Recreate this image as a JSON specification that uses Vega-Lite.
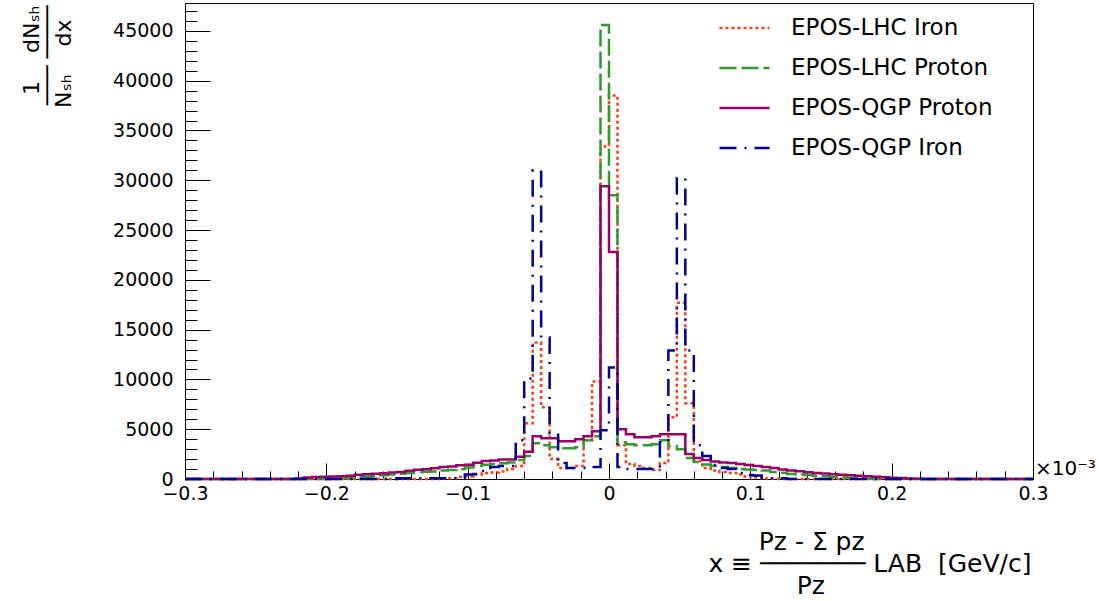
{
  "$schema": "https://vega.github.io/schema/vega-lite/v6.json",
  "width": 848,
  "height": 476,
  "autosize": {"type": "none"},
  "padding": {"left": 185, "top": 3, "right": 66, "bottom": 122},
  "background": "white",
  "config": {
    "view": {"stroke": "black", "strokeWidth": 1},
    "font": "DejaVu Sans"
  },
  "layer": [
    {
      "data": {"values": [
        {"x": -0.3, "EPOS-LHC Iron": 0, "EPOS-LHC Proton": 0, "EPOS-QGP Proton": 0, "EPOS-QGP Iron": 0},
        {"x": -0.294, "EPOS-LHC Iron": 0, "EPOS-LHC Proton": 0, "EPOS-QGP Proton": 0, "EPOS-QGP Iron": 0},
        {"x": -0.288, "EPOS-LHC Iron": 0, "EPOS-LHC Proton": 0, "EPOS-QGP Proton": 0, "EPOS-QGP Iron": 0},
        {"x": -0.282, "EPOS-LHC Iron": 0, "EPOS-LHC Proton": 0, "EPOS-QGP Proton": 0, "EPOS-QGP Iron": 0},
        {"x": -0.276, "EPOS-LHC Iron": 0, "EPOS-LHC Proton": 0, "EPOS-QGP Proton": 0, "EPOS-QGP Iron": 0},
        {"x": -0.27, "EPOS-LHC Iron": 0, "EPOS-LHC Proton": 0, "EPOS-QGP Proton": 0, "EPOS-QGP Iron": 0},
        {"x": -0.264, "EPOS-LHC Iron": 0, "EPOS-LHC Proton": 0, "EPOS-QGP Proton": 0, "EPOS-QGP Iron": 0},
        {"x": -0.258, "EPOS-LHC Iron": 0, "EPOS-LHC Proton": 0, "EPOS-QGP Proton": 0, "EPOS-QGP Iron": 0},
        {"x": -0.252, "EPOS-LHC Iron": 0, "EPOS-LHC Proton": 0, "EPOS-QGP Proton": 0, "EPOS-QGP Iron": 0},
        {"x": -0.246, "EPOS-LHC Iron": 0, "EPOS-LHC Proton": 0, "EPOS-QGP Proton": 0, "EPOS-QGP Iron": 0},
        {"x": -0.24, "EPOS-LHC Iron": 0, "EPOS-LHC Proton": 0, "EPOS-QGP Proton": 0, "EPOS-QGP Iron": 0},
        {"x": -0.234, "EPOS-LHC Iron": 0, "EPOS-LHC Proton": 0, "EPOS-QGP Proton": 0, "EPOS-QGP Iron": 0},
        {"x": -0.228, "EPOS-LHC Iron": 0, "EPOS-LHC Proton": 0, "EPOS-QGP Proton": 0, "EPOS-QGP Iron": 0},
        {"x": -0.222, "EPOS-LHC Iron": 0, "EPOS-LHC Proton": 0, "EPOS-QGP Proton": 50, "EPOS-QGP Iron": 0},
        {"x": -0.216, "EPOS-LHC Iron": 0, "EPOS-LHC Proton": 0, "EPOS-QGP Proton": 150, "EPOS-QGP Iron": 0},
        {"x": -0.21, "EPOS-LHC Iron": 0, "EPOS-LHC Proton": 0, "EPOS-QGP Proton": 200, "EPOS-QGP Iron": 0},
        {"x": -0.204, "EPOS-LHC Iron": 0, "EPOS-LHC Proton": 10, "EPOS-QGP Proton": 220, "EPOS-QGP Iron": 0},
        {"x": -0.198, "EPOS-LHC Iron": 0, "EPOS-LHC Proton": 30, "EPOS-QGP Proton": 250, "EPOS-QGP Iron": 0},
        {"x": -0.192, "EPOS-LHC Iron": 0, "EPOS-LHC Proton": 60, "EPOS-QGP Proton": 280, "EPOS-QGP Iron": 0},
        {"x": -0.186, "EPOS-LHC Iron": 0, "EPOS-LHC Proton": 100, "EPOS-QGP Proton": 330, "EPOS-QGP Iron": 0},
        {"x": -0.18, "EPOS-LHC Iron": 0, "EPOS-LHC Proton": 150, "EPOS-QGP Proton": 420, "EPOS-QGP Iron": 0},
        {"x": -0.174, "EPOS-LHC Iron": 0, "EPOS-LHC Proton": 220, "EPOS-QGP Proton": 480, "EPOS-QGP Iron": 0},
        {"x": -0.168, "EPOS-LHC Iron": 0, "EPOS-LHC Proton": 280, "EPOS-QGP Proton": 530, "EPOS-QGP Iron": 0},
        {"x": -0.162, "EPOS-LHC Iron": 0, "EPOS-LHC Proton": 380, "EPOS-QGP Proton": 580, "EPOS-QGP Iron": 0},
        {"x": -0.156, "EPOS-LHC Iron": 0, "EPOS-LHC Proton": 450, "EPOS-QGP Proton": 650, "EPOS-QGP Iron": 0},
        {"x": -0.15, "EPOS-LHC Iron": 0, "EPOS-LHC Proton": 520, "EPOS-QGP Proton": 700, "EPOS-QGP Iron": 80},
        {"x": -0.144, "EPOS-LHC Iron": 0, "EPOS-LHC Proton": 600, "EPOS-QGP Proton": 830, "EPOS-QGP Iron": 80},
        {"x": -0.138, "EPOS-LHC Iron": 0, "EPOS-LHC Proton": 680, "EPOS-QGP Proton": 930, "EPOS-QGP Iron": 80},
        {"x": -0.132, "EPOS-LHC Iron": 0, "EPOS-LHC Proton": 720, "EPOS-QGP Proton": 990, "EPOS-QGP Iron": 80},
        {"x": -0.126, "EPOS-LHC Iron": 0, "EPOS-LHC Proton": 760, "EPOS-QGP Proton": 1070, "EPOS-QGP Iron": 80},
        {"x": -0.12, "EPOS-LHC Iron": 20, "EPOS-LHC Proton": 850, "EPOS-QGP Proton": 1200, "EPOS-QGP Iron": 80},
        {"x": -0.114, "EPOS-LHC Iron": 80, "EPOS-LHC Proton": 900, "EPOS-QGP Proton": 1260, "EPOS-QGP Iron": 80},
        {"x": -0.108, "EPOS-LHC Iron": 200, "EPOS-LHC Proton": 980, "EPOS-QGP Proton": 1380, "EPOS-QGP Iron": 100},
        {"x": -0.102, "EPOS-LHC Iron": 250, "EPOS-LHC Proton": 1150, "EPOS-QGP Proton": 1430, "EPOS-QGP Iron": 450},
        {"x": -0.096, "EPOS-LHC Iron": 450, "EPOS-LHC Proton": 1300, "EPOS-QGP Proton": 1630, "EPOS-QGP Iron": 500},
        {"x": -0.09, "EPOS-LHC Iron": 600, "EPOS-LHC Proton": 1420, "EPOS-QGP Proton": 1800, "EPOS-QGP Iron": 800},
        {"x": -0.084, "EPOS-LHC Iron": 650, "EPOS-LHC Proton": 1500, "EPOS-QGP Proton": 1850, "EPOS-QGP Iron": 1200},
        {"x": -0.078, "EPOS-LHC Iron": 750, "EPOS-LHC Proton": 1580, "EPOS-QGP Proton": 1950, "EPOS-QGP Iron": 1300},
        {"x": -0.072, "EPOS-LHC Iron": 1000, "EPOS-LHC Proton": 1650, "EPOS-QGP Proton": 1950, "EPOS-QGP Iron": 1300},
        {"x": -0.066, "EPOS-LHC Iron": 1300, "EPOS-LHC Proton": 1900, "EPOS-QGP Proton": 2230, "EPOS-QGP Iron": 3900},
        {"x": -0.06, "EPOS-LHC Iron": 5600, "EPOS-LHC Proton": 2300, "EPOS-QGP Proton": 2730, "EPOS-QGP Iron": 10100},
        {"x": -0.054, "EPOS-LHC Iron": 13700, "EPOS-LHC Proton": 3600, "EPOS-QGP Proton": 4300, "EPOS-QGP Iron": 31000},
        {"x": -0.048, "EPOS-LHC Iron": 7200, "EPOS-LHC Proton": 3400, "EPOS-QGP Proton": 4100, "EPOS-QGP Iron": 14200},
        {"x": -0.042, "EPOS-LHC Iron": 2000, "EPOS-LHC Proton": 3200, "EPOS-QGP Proton": 4100, "EPOS-QGP Iron": 4600},
        {"x": -0.036, "EPOS-LHC Iron": 1100, "EPOS-LHC Proton": 3100, "EPOS-QGP Proton": 3800, "EPOS-QGP Iron": 1600},
        {"x": -0.03, "EPOS-LHC Iron": 1100, "EPOS-LHC Proton": 3100, "EPOS-QGP Proton": 3800, "EPOS-QGP Iron": 1100},
        {"x": -0.024, "EPOS-LHC Iron": 1300, "EPOS-LHC Proton": 3200, "EPOS-QGP Proton": 4000, "EPOS-QGP Iron": 1100},
        {"x": -0.018, "EPOS-LHC Iron": 3900, "EPOS-LHC Proton": 3900, "EPOS-QGP Proton": 4300, "EPOS-QGP Iron": 1100},
        {"x": -0.012, "EPOS-LHC Iron": 9800, "EPOS-LHC Proton": 4300, "EPOS-QGP Proton": 4800, "EPOS-QGP Iron": 1200},
        {"x": -0.006, "EPOS-LHC Iron": 33400, "EPOS-LHC Proton": 45600, "EPOS-QGP Proton": 29400, "EPOS-QGP Iron": 4900},
        {"x": 0, "EPOS-LHC Iron": 38500, "EPOS-LHC Proton": 28500, "EPOS-QGP Proton": 22800, "EPOS-QGP Iron": 11200},
        {"x": 0.006, "EPOS-LHC Iron": 3400, "EPOS-LHC Proton": 3700, "EPOS-QGP Proton": 5000, "EPOS-QGP Iron": 1200},
        {"x": 0.012, "EPOS-LHC Iron": 1500, "EPOS-LHC Proton": 3500, "EPOS-QGP Proton": 4500, "EPOS-QGP Iron": 1000},
        {"x": 0.018, "EPOS-LHC Iron": 1300, "EPOS-LHC Proton": 3400, "EPOS-QGP Proton": 4200, "EPOS-QGP Iron": 1000},
        {"x": 0.024, "EPOS-LHC Iron": 1100, "EPOS-LHC Proton": 3400, "EPOS-QGP Proton": 4200, "EPOS-QGP Iron": 1000},
        {"x": 0.03, "EPOS-LHC Iron": 900, "EPOS-LHC Proton": 3500, "EPOS-QGP Proton": 4300, "EPOS-QGP Iron": 1000},
        {"x": 0.036, "EPOS-LHC Iron": 1600, "EPOS-LHC Proton": 3900, "EPOS-QGP Proton": 4500, "EPOS-QGP Iron": 3700},
        {"x": 0.042, "EPOS-LHC Iron": 6200, "EPOS-LHC Proton": 3300, "EPOS-QGP Proton": 4500, "EPOS-QGP Iron": 12900},
        {"x": 0.048, "EPOS-LHC Iron": 17700, "EPOS-LHC Proton": 3000, "EPOS-QGP Proton": 4500, "EPOS-QGP Iron": 30200},
        {"x": 0.054, "EPOS-LHC Iron": 7600, "EPOS-LHC Proton": 2100, "EPOS-QGP Proton": 2500, "EPOS-QGP Iron": 12900},
        {"x": 0.06, "EPOS-LHC Iron": 1800, "EPOS-LHC Proton": 1700, "EPOS-QGP Proton": 2100, "EPOS-QGP Iron": 3400},
        {"x": 0.066, "EPOS-LHC Iron": 1100, "EPOS-LHC Proton": 1450, "EPOS-QGP Proton": 1900, "EPOS-QGP Iron": 2300},
        {"x": 0.072, "EPOS-LHC Iron": 850, "EPOS-LHC Proton": 1300, "EPOS-QGP Proton": 1750, "EPOS-QGP Iron": 1400},
        {"x": 0.078, "EPOS-LHC Iron": 700, "EPOS-LHC Proton": 1200, "EPOS-QGP Proton": 1650, "EPOS-QGP Iron": 1100},
        {"x": 0.084, "EPOS-LHC Iron": 600, "EPOS-LHC Proton": 1100, "EPOS-QGP Proton": 1600, "EPOS-QGP Iron": 1000},
        {"x": 0.09, "EPOS-LHC Iron": 450, "EPOS-LHC Proton": 1000, "EPOS-QGP Proton": 1500, "EPOS-QGP Iron": 600},
        {"x": 0.096, "EPOS-LHC Iron": 250, "EPOS-LHC Proton": 950, "EPOS-QGP Proton": 1400, "EPOS-QGP Iron": 400},
        {"x": 0.102, "EPOS-LHC Iron": 150, "EPOS-LHC Proton": 900, "EPOS-QGP Proton": 1300, "EPOS-QGP Iron": 350},
        {"x": 0.108, "EPOS-LHC Iron": 50, "EPOS-LHC Proton": 850, "EPOS-QGP Proton": 1200, "EPOS-QGP Iron": 100},
        {"x": 0.114, "EPOS-LHC Iron": 20, "EPOS-LHC Proton": 700, "EPOS-QGP Proton": 1100, "EPOS-QGP Iron": 80},
        {"x": 0.12, "EPOS-LHC Iron": 0, "EPOS-LHC Proton": 620, "EPOS-QGP Proton": 950, "EPOS-QGP Iron": 80},
        {"x": 0.126, "EPOS-LHC Iron": 0, "EPOS-LHC Proton": 500, "EPOS-QGP Proton": 850, "EPOS-QGP Iron": 0},
        {"x": 0.132, "EPOS-LHC Iron": 0, "EPOS-LHC Proton": 450, "EPOS-QGP Proton": 780, "EPOS-QGP Iron": 0},
        {"x": 0.138, "EPOS-LHC Iron": 0, "EPOS-LHC Proton": 400, "EPOS-QGP Proton": 680, "EPOS-QGP Iron": 0},
        {"x": 0.144, "EPOS-LHC Iron": 0, "EPOS-LHC Proton": 330, "EPOS-QGP Proton": 600, "EPOS-QGP Iron": 0},
        {"x": 0.15, "EPOS-LHC Iron": 0, "EPOS-LHC Proton": 280, "EPOS-QGP Proton": 550, "EPOS-QGP Iron": 0},
        {"x": 0.156, "EPOS-LHC Iron": 0, "EPOS-LHC Proton": 200, "EPOS-QGP Proton": 480, "EPOS-QGP Iron": 0},
        {"x": 0.162, "EPOS-LHC Iron": 0, "EPOS-LHC Proton": 140, "EPOS-QGP Proton": 430, "EPOS-QGP Iron": 0},
        {"x": 0.168, "EPOS-LHC Iron": 0, "EPOS-LHC Proton": 100, "EPOS-QGP Proton": 380, "EPOS-QGP Iron": 0},
        {"x": 0.174, "EPOS-LHC Iron": 0, "EPOS-LHC Proton": 60, "EPOS-QGP Proton": 320, "EPOS-QGP Iron": 0},
        {"x": 0.18, "EPOS-LHC Iron": 0, "EPOS-LHC Proton": 30, "EPOS-QGP Proton": 270, "EPOS-QGP Iron": 0},
        {"x": 0.186, "EPOS-LHC Iron": 0, "EPOS-LHC Proton": 10, "EPOS-QGP Proton": 220, "EPOS-QGP Iron": 0},
        {"x": 0.192, "EPOS-LHC Iron": 0, "EPOS-LHC Proton": 0, "EPOS-QGP Proton": 180, "EPOS-QGP Iron": 0},
        {"x": 0.198, "EPOS-LHC Iron": 0, "EPOS-LHC Proton": 0, "EPOS-QGP Proton": 130, "EPOS-QGP Iron": 0},
        {"x": 0.204, "EPOS-LHC Iron": 0, "EPOS-LHC Proton": 0, "EPOS-QGP Proton": 100, "EPOS-QGP Iron": 0},
        {"x": 0.21, "EPOS-LHC Iron": 0, "EPOS-LHC Proton": 0, "EPOS-QGP Proton": 50, "EPOS-QGP Iron": 0},
        {"x": 0.216, "EPOS-LHC Iron": 0, "EPOS-LHC Proton": 0, "EPOS-QGP Proton": 30, "EPOS-QGP Iron": 0},
        {"x": 0.222, "EPOS-LHC Iron": 0, "EPOS-LHC Proton": 0, "EPOS-QGP Proton": 0, "EPOS-QGP Iron": 0},
        {"x": 0.228, "EPOS-LHC Iron": 0, "EPOS-LHC Proton": 0, "EPOS-QGP Proton": 0, "EPOS-QGP Iron": 0},
        {"x": 0.234, "EPOS-LHC Iron": 0, "EPOS-LHC Proton": 0, "EPOS-QGP Proton": 0, "EPOS-QGP Iron": 0},
        {"x": 0.24, "EPOS-LHC Iron": 0, "EPOS-LHC Proton": 0, "EPOS-QGP Proton": 0, "EPOS-QGP Iron": 0},
        {"x": 0.246, "EPOS-LHC Iron": 0, "EPOS-LHC Proton": 0, "EPOS-QGP Proton": 0, "EPOS-QGP Iron": 0},
        {"x": 0.252, "EPOS-LHC Iron": 0, "EPOS-LHC Proton": 0, "EPOS-QGP Proton": 0, "EPOS-QGP Iron": 0},
        {"x": 0.258, "EPOS-LHC Iron": 0, "EPOS-LHC Proton": 0, "EPOS-QGP Proton": 0, "EPOS-QGP Iron": 0},
        {"x": 0.264, "EPOS-LHC Iron": 0, "EPOS-LHC Proton": 0, "EPOS-QGP Proton": 0, "EPOS-QGP Iron": 0},
        {"x": 0.27, "EPOS-LHC Iron": 0, "EPOS-LHC Proton": 0, "EPOS-QGP Proton": 0, "EPOS-QGP Iron": 0},
        {"x": 0.276, "EPOS-LHC Iron": 0, "EPOS-LHC Proton": 0, "EPOS-QGP Proton": 0, "EPOS-QGP Iron": 0},
        {"x": 0.282, "EPOS-LHC Iron": 0, "EPOS-LHC Proton": 0, "EPOS-QGP Proton": 0, "EPOS-QGP Iron": 0},
        {"x": 0.288, "EPOS-LHC Iron": 0, "EPOS-LHC Proton": 0, "EPOS-QGP Proton": 0, "EPOS-QGP Iron": 0},
        {"x": 0.294, "EPOS-LHC Iron": 0, "EPOS-LHC Proton": 0, "EPOS-QGP Proton": 0, "EPOS-QGP Iron": 0},
        {"x": 0.3, "EPOS-LHC Iron": 0, "EPOS-LHC Proton": 0, "EPOS-QGP Proton": 0, "EPOS-QGP Iron": 0}
      ]},
      "transform": [
        {"fold": ["EPOS-LHC Iron", "EPOS-LHC Proton", "EPOS-QGP Proton", "EPOS-QGP Iron"], "as": ["series", "value"]}
      ],
      "mark": {"type": "line", "interpolate": "step-after", "strokeWidth": 2.5, "strokeCap": "butt"},
      "encoding": {
        "x": {
          "field": "x", "type": "quantitative",
          "scale": {"domain": [-0.3, 0.3], "nice": false, "zero": false},
          "axis": {
            "orient": "bottom",
            "values": [-0.3, -0.2, -0.1, 0, 0.1, 0.2, 0.3],
            "labelExpr": "datum.value == 0 ? '0' : format(datum.value, '.1f')",
            "grid": false,
            "tickSize": -16, "tickColor": "black", "tickWidth": 1,
            "domainColor": "black", "domainWidth": 1,
            "labelPadding": 21,
            "labelFont": "DejaVu Sans", "labelFontSize": 19, "labelColor": "black",
            "labelFlush": false,
            "title": ["Pz - \u03a3 pz\u00a0\u00a0\u00a0\u00a0\u00a0\u00a0\u00a0\u00a0\u00a0\u00a0\u00a0\u00a0\u00a0\u00a0\u00a0\u00a0\u00a0\u00a0\u00a0\u00a0\u00a0\u200b", "x \u2261 \u2500\u2500\u2500\u2500\u2500\u2500\u2500 LAB\u00a0\u00a0[GeV/c]", "Pz\u00a0\u00a0\u00a0\u00a0\u00a0\u00a0\u00a0\u00a0\u00a0\u00a0\u00a0\u00a0\u00a0\u00a0\u00a0\u00a0\u00a0\u00a0\u00a0\u00a0\u00a0\u00a0\u00a0\u00a0\u00a0\u00a0\u200b"],
            "titleFont": "DejaVu Sans", "titleFontSize": 25, "titleFontWeight": "normal", "titleColor": "black",
            "titleAlign": "right", "titleAnchor": "end", "titleBaseline": "top",
            "titleX": 846, "titleY": 50, "titleLineHeight": 22, "titleLimit": 0
          }
        },
        "y": {
          "field": "value", "type": "quantitative",
          "scale": {"domain": [0, 47800], "nice": false},
          "axis": {
            "orient": "left",
            "values": [0, 5000, 10000, 15000, 20000, 25000, 30000, 35000, 40000, 45000],
            "format": "d",
            "grid": false,
            "tickSize": -25, "tickColor": "black", "tickWidth": 1,
            "domainColor": "black", "domainWidth": 1,
            "labelPadding": 37,
            "labelFont": "DejaVu Sans", "labelFontSize": 19, "labelColor": "black",
            "labelFlush": false,
            "title": ["1\u00a0\u00a0\u00a0\u00a0dN\u209b\u2095", "\u2500\u2500\u2500\u00a0\u2500\u2500\u2500\u2500", "N\u209b\u2095\u00a0\u00a0\u00a0\u00a0dx\u00a0\u00a0\u200b"],
            "titleFont": "DejaVu Sans", "titleFontSize": 22, "titleFontWeight": "normal", "titleColor": "black",
            "titleAngle": 270, "titleAlign": "right", "titleBaseline": "alphabetic",
            "titleX": -147, "titleY": 2, "titleLineHeight": 16, "titleLimit": 0
          }
        },
        "color": {
          "field": "series", "type": "nominal",
          "scale": {"domain": ["EPOS-LHC Iron", "EPOS-LHC Proton", "EPOS-QGP Proton", "EPOS-QGP Iron"], "range": ["#ff3c14", "#339933", "#990066", "#000099"]},
          "legend": {"orient": "none", "legendX": 533, "legendY": 5, "title": null, "symbolType": "stroke", "symbolSize": 2500, "symbolStrokeWidth": 2.5, "clipHeight": 40, "rowPadding": 0, "labelOffset": 20, "labelFont": "DejaVu Sans", "labelFontSize": 23, "labelColor": "black", "labelLimit": 0, "padding": 0}
        },
        "strokeDash": {
          "field": "series", "type": "nominal",
          "scale": {"domain": ["EPOS-LHC Iron", "EPOS-LHC Proton", "EPOS-QGP Proton", "EPOS-QGP Iron"], "range": [[3, 3], [17, 5], [1, 0], [17, 8, 2, 8]]},
          "legend": {"orient": "none", "legendX": 533, "legendY": 5, "title": null, "symbolType": "stroke", "symbolSize": 2500, "symbolStrokeWidth": 2.5, "clipHeight": 40, "rowPadding": 0, "labelOffset": 20, "labelFont": "DejaVu Sans", "labelFontSize": 23, "labelColor": "black", "labelLimit": 0, "padding": 0}
        }
      }
    },
    {
      "data": {"values": [{"t": "\u00d710\u207b\u00b3"}]},
      "mark": {"type": "text", "align": "left", "baseline": "bottom", "dx": 2, "dy": 0, "font": "DejaVu Sans", "fontSize": 20, "color": "black"},
      "encoding": {
        "x": {
          "datum": 0.3, "type": "quantitative",
          "scale": {"domain": [-0.3, 0.3], "nice": false, "zero": false},
          "axis": {
            "orient": "bottom",
            "values": [-0.3, -0.28, -0.26, -0.24, -0.22, -0.2, -0.18, -0.16, -0.14, -0.12, -0.1, -0.08, -0.06, -0.04, -0.02, 0, 0.02, 0.04, 0.06, 0.08, 0.1, 0.12, 0.14, 0.16, 0.18, 0.2, 0.22, 0.24, 0.26, 0.28, 0.3],
            "labels": false, "domain": false, "grid": false, "title": null,
            "tickSize": -8, "tickColor": "black", "tickWidth": 1
          }
        },
        "y": {
          "datum": 0, "type": "quantitative",
          "scale": {"domain": [0, 47800], "nice": false},
          "axis": {
            "orient": "left",
            "values": [0, 1000, 2000, 3000, 4000, 5000, 6000, 7000, 8000, 9000, 10000, 11000, 12000, 13000, 14000, 15000, 16000, 17000, 18000, 19000, 20000, 21000, 22000, 23000, 24000, 25000, 26000, 27000, 28000, 29000, 30000, 31000, 32000, 33000, 34000, 35000, 36000, 37000, 38000, 39000, 40000, 41000, 42000, 43000, 44000, 45000, 46000, 47000],
            "labels": false, "domain": false, "grid": false, "title": null,
            "tickSize": -12, "tickColor": "black", "tickWidth": 1
          }
        },
        "text": {"field": "t", "type": "nominal"}
      }
    }
  ],
  "resolve": {"axis": {"x": "independent", "y": "independent"}}
}
